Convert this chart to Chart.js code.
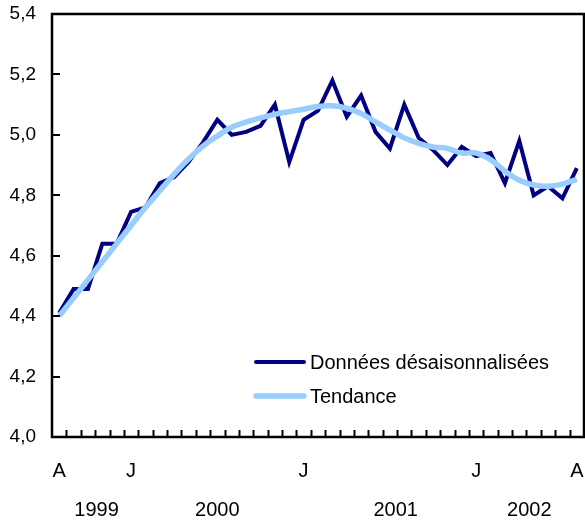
<!DOCTYPE html>
<html lang="fr">
<head>
<meta charset="utf-8">
<script src="https://cdn.jsdelivr.net/npm/chart.js@4.4.1/dist/chart.umd.min.js"></script>
<style>
    html, body { margin: 0; padding: 0; background: #fff; }
    #wrap { position: relative; width: 585px; height: 521px; }
</style>
</head>
<body>
<div id="wrap"><canvas id="chart"></canvas></div>
<script>
// Mois (initiales), d'août 1999 à août 2002
const months = ['A', 'S', 'O', 'N', 'D',
    'J', 'F', 'M', 'A', 'M', 'J', 'J', 'A', 'S', 'O', 'N', 'D',
    'J', 'F', 'M', 'A', 'M', 'J', 'J', 'A', 'S', 'O', 'N', 'D',
    'J', 'F', 'M', 'A', 'M', 'J', 'J', 'A'];
// seuls ces mois portent une étiquette
const shownMonths = [0, 5, 17, 29, 36];
const years = ['1999', '2000', '2001', '2002'];

const desaisonnalisees = [4.41, 4.49, 4.49, 4.64, 4.64,
    4.745, 4.76, 4.84, 4.86, 4.91, 4.975, 5.05, 5.00, 5.01, 5.03, 5.10, 4.91,
    5.05, 5.08, 5.18, 5.06, 5.13, 5.01, 4.955, 5.10, 4.99, 4.95, 4.90, 4.96,
    4.93, 4.94, 4.84, 4.98, 4.80, 4.83, 4.79, 4.89];

const tendance = [4.40, 4.46, 4.52, 4.58, 4.64,
    4.70, 4.76, 4.815, 4.87, 4.92, 4.963, 4.996, 5.025, 5.042, 5.056, 5.068, 5.077,
    5.085, 5.094, 5.096, 5.088, 5.071, 5.043, 5.016, 4.99, 4.972, 4.96, 4.955, 4.94,
    4.94, 4.918, 4.88, 4.85, 4.834, 4.83, 4.837, 4.853];

const FONT = 'Liberation Sans, Arial, sans-serif';

// taille fixe de l'axe, sans marge ajoutée pour les étiquettes
function fixSize(w, h) {
    return s => {
        if (w) s.width = w;
        if (h) s.height = h;
        s.paddingTop = s.paddingBottom = s.paddingLeft = s.paddingRight = 0;
    };
}

// cadre, petites graduations intérieures et légende dans la zone du graphique
const framePlugin = {
    id: 'frame',
    afterDatasetsDraw(chart) {
        const { ctx, chartArea: a, scales } = chart;
        ctx.save();
        ctx.strokeStyle = '#000';
        ctx.lineWidth = 2;
        ctx.beginPath();
        for (let i = 0; i < months.length - 1; i++) {
            const px = Math.round(scales.x.getPixelForValue(i + 0.5)) + 0.5;
            ctx.moveTo(px, a.bottom);
            ctx.lineTo(px, a.bottom - 7);
        }
        scales.y.ticks.forEach(t => {
            const py = Math.round(scales.y.getPixelForValue(t.value));
            ctx.moveTo(a.left, py);
            ctx.lineTo(a.left + 8, py);
        });
        ctx.stroke();
        ctx.lineWidth = 2.5;
        ctx.strokeRect(a.left, a.top, a.right - a.left, a.bottom - a.top);

        // légende
        ctx.font = '20px ' + FONT;
        ctx.fillStyle = '#000';
        ctx.textBaseline = 'middle';
        ctx.lineCap = 'round';
        chart.data.datasets.forEach((ds, k) => {
            const y = 362 + k * 34;
            ctx.strokeStyle = ds.borderColor;
            ctx.lineWidth = ds.borderWidth;
            ctx.beginPath();
            ctx.moveTo(256, y);
            ctx.lineTo(304, y);
            ctx.stroke();
            ctx.fillText(ds.label, 310, y + 1);
        });
        ctx.restore();
    }
};

new Chart(document.getElementById('chart'), {
    type: 'line',
    data: {
        labels: months,
        datasets: [{
            label: 'Données désaisonnalisées',
            data: desaisonnalisees,
            borderColor: '#000080',
            borderWidth: 4,
            pointRadius: 0,
            tension: 0,
            order: 2
        }, {
            label: 'Tendance',
            data: tendance,
            borderColor: '#99ccff',
            borderWidth: 5.5,
            pointRadius: 0,
            tension: 0.4,
            order: 1
        }]
    },
    options: {
        responsive: true,
        maintainAspectRatio: false,
        animation: false,
        devicePixelRatio: 1,
        layout: { padding: { top: 14, right: 1, left: 0, bottom: 0 } },
        plugins: {
            legend: { display: false },
            tooltip: { enabled: false }
        },
        scales: {
            x: {
                type: 'category',
                position: 'bottom',
                offset: true,
                grid: { display: false, drawTicks: false, offset: true },
                border: { display: false },
                ticks: {
                    autoSkip: false,
                    maxRotation: 0,
                    padding: 22,
                    color: '#000',
                    font: { family: FONT, size: 20 },
                    callback: (v, i) => shownMonths.includes(i) ? months[i] : ''
                },
                afterFit: fixSize(0, 45)
            },
            annees: {
                type: 'linear',
                position: 'bottom',
                min: -0.5,
                max: months.length - 0.5,
                grid: { display: false, drawTicks: false },
                border: { display: false },
                afterBuildTicks: s => {
                    s.ticks = [2.6, 11, 23.4, 32.7].map(v => ({ value: v }));
                },
                ticks: {
                    autoSkip: false,
                    maxRotation: 0,
                    padding: 16,
                    color: '#000',
                    font: { family: FONT, size: 20 },
                    callback: (v, i) => years[i]
                },
                afterFit: fixSize(0, 39)
            },
            y: {
                min: 4.0,
                max: 5.4,
                grid: { display: false, drawTicks: false },
                border: { display: false },
                ticks: {
                    stepSize: 0.2,
                    padding: 16,
                    color: '#000',
                    font: { family: FONT, size: 19 },
                    callback: v => v.toFixed(1).replace('.', ',')
                },
                afterFit: fixSize(52, 0)
            }
        }
    },
    plugins: [framePlugin]
});
</script>
</body>
</html>
